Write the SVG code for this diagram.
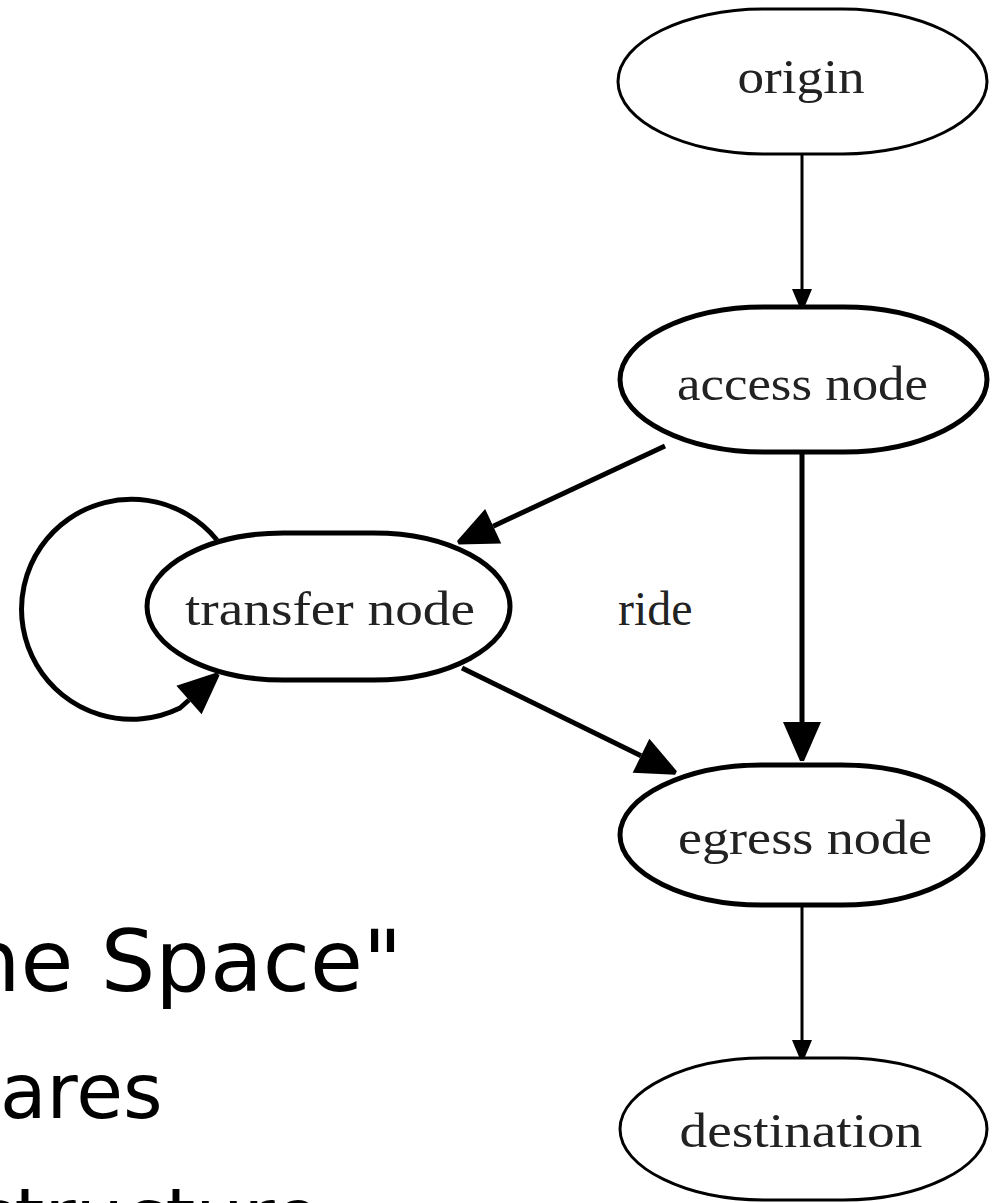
<svg xmlns="http://www.w3.org/2000/svg" width="993" height="1203" viewBox="0 0 993 1203">
<style>
.node{fill:#fff;stroke:#000}
.thin{stroke-width:3}
.thick{stroke-width:5}
.lbl{font-family:"Liberation Serif","DejaVu Serif",serif;font-size:48px;fill:#222;text-anchor:middle}
.edge{fill:none;stroke:#000}
.slide{font-family:"DejaVu Sans",sans-serif;fill:#000}
</style>
<defs>
<marker id="ahS" viewBox="0 -11 19 22" refX="0" refY="0" markerWidth="19" markerHeight="22" markerUnits="userSpaceOnUse" orient="auto" overflow="visible"><path d="M0 -10 L18 -2.5 L18 2.5 L0 10 Z" fill="#000"/></marker>
<marker id="ahB" viewBox="0 -20 40 40" refX="0" refY="0" markerWidth="40" markerHeight="40" markerUnits="userSpaceOnUse" orient="auto" overflow="visible"><path d="M0 -19 L39 -2 L39 2 L0 19 Z" fill="#000"/></marker>
</defs>
<rect width="993" height="1203" fill="#fff"/>
<g id="slide-text">
<text class="slide" x="-34" y="991" font-size="86">ne Space"</text>
<text class="slide" x="0" y="1118" font-size="76">ares</text>
<text class="slide" x="-25" y="1243" font-size="76">structure</text>
</g>
<g id="connectors">
<path class="edge thin" d="M802 154 L802 289" marker-end="url(#ahS)"/>
<path class="edge thick" d="M802 452 L802 722" marker-end="url(#ahB)"/>
<path class="edge thick" d="M665 446 L493.2 526.2" marker-end="url(#ahB)"/>
<path class="edge thick" d="M462 668 L641 755.8" marker-end="url(#ahB)"/>
<path class="edge thin" d="M802 905 L802 1040" marker-end="url(#ahS)"/>
<path class="edge thick" d="M217 540 A110 110 0 1 0 180 708 L189 700" marker-end="url(#ahB)"/>
<text x="618" y="625" style="font-family:'Liberation Serif','DejaVu Serif',serif;font-size:48px;fill:#222">ride</text>
</g>
<g id="origin">
<path class="node thin" d="M762.5 9 L842.5 9 C919 9 987 41.5 987 81.5 C987 121.5 919 154 842.5 154 L762.5 154 C686 154 618 121.5 618 81.5 C618 41.5 686 9 762.5 9 Z"/>
<text class="lbl" x="801" y="93" textLength="127" lengthAdjust="spacingAndGlyphs">origin</text>
</g>
<g id="access-node">
<path class="node thick" d="M763.5 307 L843.5 307 C919.6 307 987 339.5 987 379.5 C987 419.5 919.6 452 843.5 452 L763.5 452 C687.4 452 620 419.5 620 379.5 C620 339.5 687.4 307 763.5 307 Z"/>
<text class="lbl" x="802.5" y="400" textLength="251" lengthAdjust="spacingAndGlyphs">access node</text>
</g>
<g id="transfer-node">
<path class="node thick" d="M283.5 533 L373.5 533 C448.5 533 510 566 510 606.5 C510 647 448.5 680 373.5 680 L283.5 680 C208.5 680 147 647 147 606.5 C147 566 208.5 533 283.5 533 Z"/>
<text class="lbl" x="330" y="625" textLength="290" lengthAdjust="spacingAndGlyphs">transfer node</text>
</g>
<g id="egress-node">
<path class="node thick" d="M761.5 765 L841.5 765 C917 765 983 796.4 983 835 C983 873.6 917 905 841.5 905 L761.5 905 C686 905 620 873.6 620 835 C620 796.4 686 765 761.5 765 Z"/>
<text class="lbl" x="805" y="854" textLength="254" lengthAdjust="spacingAndGlyphs">egress node</text>
</g>
<g id="destination">
<path class="node thin" d="M763.5 1058 L843.5 1058 C919.6 1058 987 1089.8 987 1129 C987 1168.2 919.6 1200 843.5 1200 L763.5 1200 C687.4 1200 620 1168.2 620 1129 C620 1089.8 687.4 1058 763.5 1058 Z"/>
<text class="lbl" x="801" y="1147" textLength="243" lengthAdjust="spacingAndGlyphs">destination</text>
</g>
</svg>
